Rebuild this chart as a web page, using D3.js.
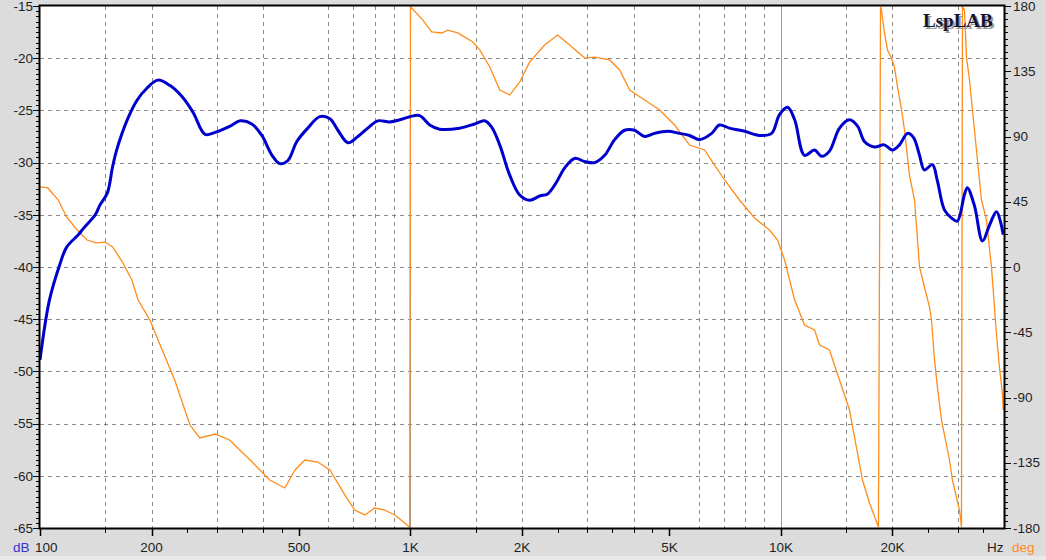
<!DOCTYPE html>
<html>
<head>
<meta charset="utf-8">
<script src="https://cdn.jsdelivr.net/npm/d3@7"></script>
<style>
  html, body { margin: 0; padding: 0; background: #dcdcdc; }
  svg { display: block; }
</style>
</head>
<body>
<svg id="chart" width="1046" height="560"></svg>
<script>
// ---- Data ----
const magFreq = [100,106,113,118,127,131,141,145,152,157,161,173,183,194,208,224,242,259,279,297,326,347,373,397,423,444,467,493,528,569,606,637,678,721,767,816,879,936,996,1059,1127,1199,1358,1490,1585,1656,1741,1853,1972,2098,2233,2345,2466,2608,2775,2953,3142,3343,3557,3785,4027,4285,4560,4943,5325,5666,6030,6501,6823,7261,7980,8750,9435,9910,10420,10890,11580,12320,12880,13520,14390,15310,16100,16820,17900,19010,20000,20890,21960,22800,23660,24380,25640,26420,27600,28840,29920,31260,31840,33270,34990,36550,38180,39810];
const magDb = [-48.9,-43.2,-39.8,-38.1,-36.9,-36.3,-35.0,-34.1,-32.9,-30.4,-28.8,-25.7,-24.0,-22.9,-22.1,-22.6,-23.7,-25.2,-27.3,-27.1,-26.5,-26.0,-26.3,-27.4,-29.3,-30.1,-29.8,-28.0,-26.7,-25.6,-25.8,-26.9,-28.1,-27.5,-26.7,-26.0,-26.1,-25.9,-25.6,-25.5,-26.4,-26.8,-26.7,-26.3,-26.0,-26.6,-28.3,-31.2,-33.1,-33.6,-33.2,-33.0,-32.0,-30.5,-29.6,-29.9,-30.0,-29.3,-27.8,-26.9,-26.9,-27.5,-27.2,-27.0,-27.2,-27.4,-27.8,-27.2,-26.4,-26.7,-27.0,-27.4,-27.2,-25.4,-24.7,-25.9,-29.3,-28.8,-29.4,-28.9,-26.7,-25.9,-26.5,-28.0,-28.5,-28.3,-28.8,-28.3,-27.2,-27.6,-29.3,-30.7,-30.2,-31.7,-34.5,-35.3,-35.6,-33.1,-32.4,-34.1,-37.5,-36.0,-34.7,-36.9];

const phaseFreq = [100,105,112,118,126,134,142,150,157,167,177,184,198,211,231,254,270,297,325,369,417,458,488,519,562,606,665,707,753,801,852,907,965,995,
  1000,1080,1141,1215,1261,1342,1473,1538,1637,1742,1853,1972,2098,2302,2496,2690,2953,3142,3450,3670,3905,4285,4707,5164,5666,6221,6621,7046,7727,8488,9311,9795,10230,10890,11580,12320,12710,13520,14390,15310,16600,17340,18330,
  18570,18680,19030,19390,19880,20250,20640,21160,21550,22230,22940,23660,24400,25170,25490,25970,26450,27120,28500,29040,30330,30710,
  30900,31290,31680,32280,32880,34770,35870,37000,38150,38870,39600,39810];
const phaseDeg = [55.2,54.5,46.2,34.5,25.5,18.6,16.6,17.2,13.8,3.4,-9,-22.8,-36.6,-53.8,-77.9,-109,-117.9,-115.2,-119.3,-133.1,-146.9,-152.4,-140,-133.1,-134.5,-140,-157.2,-167.6,-171,-166.2,-167.6,-171,-176.6,-179.5,
  179.5,170.3,162.1,161.4,163.4,161.4,155.2,149.7,137.9,122.1,118.6,127.6,141.4,153.1,160,153.1,144.1,144.8,142.8,135.9,122.1,115.2,108.3,97.9,84.1,80.7,70.3,60,46.2,33.8,25.5,18.6,4.8,-22.8,-40,-43.4,-53.8,-57.2,-77.9,-98.6,-146.9,-162.8,-179.3,
  179.5,177.2,161.4,149.7,144.1,137.9,124.1,108.3,94.5,63.4,46.2,0,-13.8,-27.6,-36.6,-64.1,-82.8,-105.5,-133.1,-146.9,-167.6,-179.3,
  179.5,177.2,144.8,129,108.3,46.2,32.4,0,-45.5,-69,-86.9,-98.6];

const dbTicks = [-15,-20,-25,-30,-35,-40,-45,-50,-55,-60,-65];
const degTicks = [180,135,90,45,0,-45,-90,-135,-180];
const freqMajor = [100,200,500,1000,2000,5000,10000,20000];
const freqMajorLabels = ["100","200","500","1K","2K","5K","10K","20K"];
const freqMinorMult = [1.5,2.5,3,3.5,4,4.5];
const gridMult = [1.5,2,3,4,6,7,8,9];
const decades = [100,1000,10000];

// ---- Layout ----
const W = 1046, H = 560;
const L = 40, R = 1004, T = 6, B = 528;
const svg = d3.select("#chart");

const x = d3.scaleLog().domain([100, 40000]).range([L, R]);
const y = d3.scaleLinear().domain([-65, -15]).range([B, T]);
const yp = d3.scaleLinear().domain([-180, 180]).range([B, T]);

svg.append("rect").attr("width", W).attr("height", H).attr("fill", "#dcdcdc");
svg.append("rect").attr("x", 0).attr("y", 556).attr("width", W).attr("height", 4).attr("fill", "#e9e9e9");
svg.append("rect").attr("x", L).attr("y", T).attr("width", R - L).attr("height", B - T).attr("fill", "#fff");

// ---- Grid ----
const grid = svg.append("g");
// vertical dashed
const vGrid = [];
decades.forEach(d => gridMult.forEach(m => { const f = d * m; if (f < 40000) vGrid.push(f); }));
grid.selectAll("line.vg").data(vGrid).join("line")
  .attr("x1", d => Math.round(x(d)) + 0.5).attr("x2", d => Math.round(x(d)) + 0.5)
  .attr("y1", T).attr("y2", B)
  .attr("stroke", "#8a8a8a").attr("stroke-width", 1).attr("stroke-dasharray", "4,4");
// vertical solid (decades)
grid.selectAll("line.vd").data([1000, 10000]).join("line")
  .attr("x1", d => Math.round(x(d)) + 0.5).attr("x2", d => Math.round(x(d)) + 0.5)
  .attr("y1", T).attr("y2", B)
  .attr("stroke", "#9a9a9a").attr("stroke-width", 1);
// horizontal dashed
grid.selectAll("line.hg").data(dbTicks.filter(d => d > -65 && d < -15)).join("line")
  .attr("x1", L).attr("x2", R)
  .attr("y1", d => Math.round(y(d)) + 0.5).attr("y2", d => Math.round(y(d)) + 0.5)
  .attr("stroke", "#8a8a8a").attr("stroke-width", 1).attr("stroke-dasharray", "4,4");

// ---- Curves ----
svg.append("clipPath").attr("id", "clip").append("rect")
  .attr("x", L).attr("y", T).attr("width", R - L).attr("height", B - T);

const phaseData = phaseFreq.map((f, i) => [f, phaseDeg[i]]);
svg.append("path").attr("clip-path", "url(#clip)")
  .attr("d", d3.line().x(d => x(d[0])).y(d => yp(d[1]))(phaseData))
  .attr("fill", "none").attr("stroke", "#ff8c1a").attr("stroke-width", 1.3);

const magData = magFreq.map((f, i) => [f, magDb[i]]);
svg.append("path").attr("clip-path", "url(#clip)")
  .attr("d", d3.line().curve(d3.curveCatmullRom.alpha(0.5)).x(d => x(d[0])).y(d => y(d[1]))(magData))
  .attr("fill", "none").attr("stroke", "#0000cc").attr("stroke-width", 3)
  .attr("stroke-linejoin", "round");

// ---- Border ----
svg.append("rect").attr("x", L - 0.5).attr("y", T - 0.5).attr("width", R - L + 1).attr("height", B - T + 1)
  .attr("fill", "none").attr("stroke", "#000").attr("stroke-width", 2);

const font = "'Liberation Sans', Arial, sans-serif";
const txtCol = "#1e1e1e";

// ---- Left axis ----
const minorDb = d3.range(-65, -14.99, 0.5);
svg.append("g").selectAll("line").data(minorDb).join("line")
  .attr("x1", L - 1).attr("x2", d => (d % 5 === 0) ? L - 7 : L - 4)
  .attr("y1", d => Math.round(y(d)) + 0.5).attr("y2", d => Math.round(y(d)) + 0.5)
  .attr("stroke", "#000").attr("stroke-width", 1);
svg.append("g").selectAll("text").data(dbTicks).join("text")
  .attr("x", L - 7).attr("y", d => y(d)).attr("dy", "0.35em")
  .attr("text-anchor", "end").attr("font-family", font).attr("font-size", 13.5)
  .attr("fill", txtCol).text(d => d);

// ---- Right axis ----
const minorDeg = d3.range(-180, 180.01, 4.5);
svg.append("g").selectAll("line").data(minorDeg).join("line")
  .attr("x1", R + 1).attr("x2", d => (Math.abs(d) % 45 === 0) ? R + 7 : R + 4)
  .attr("y1", d => Math.round(yp(d)) + 0.5).attr("y2", d => Math.round(yp(d)) + 0.5)
  .attr("stroke", "#000").attr("stroke-width", 1);
svg.append("g").selectAll("text").data(degTicks).join("text")
  .attr("x", R + 9).attr("y", d => yp(d)).attr("dy", "0.35em")
  .attr("text-anchor", "start").attr("font-family", font).attr("font-size", 13.5)
  .attr("fill", txtCol).text(d => d);

// ---- Bottom axis ----
const minorF = [];
[100, 1000, 10000].forEach(d => freqMinorMult.forEach(m => { const f = d * m; if (f < 40000) minorF.push(f); }));
svg.append("g").selectAll("line").data(minorF).join("line")
  .attr("x1", d => Math.round(x(d)) + 0.5).attr("x2", d => Math.round(x(d)) + 0.5)
  .attr("y1", B + 1).attr("y2", B + 5)
  .attr("stroke", "#000").attr("stroke-width", 1);
svg.append("g").selectAll("line").data(freqMajor).join("line")
  .attr("x1", d => Math.round(x(d)) + 0.5).attr("x2", d => Math.round(x(d)) + 0.5)
  .attr("y1", B + 1).attr("y2", B + 8)
  .attr("stroke", "#000").attr("stroke-width", 1.5);
svg.append("g").selectAll("text").data(freqMajor).join("text")
  .attr("x", (d, i) => i === 0 ? x(d) - 5 : x(d)).attr("y", 552)
  .attr("text-anchor", (d, i) => i === 0 ? "start" : "middle")
  .attr("font-family", font).attr("font-size", 13.5)
  .attr("fill", txtCol).text((d, i) => freqMajorLabels[i]);

// Unit labels
svg.append("text").attr("x", 13).attr("y", 552).attr("font-family", font).attr("font-size", 13.5)
  .attr("fill", "#3535d0").text("dB");
svg.append("text").attr("x", 987).attr("y", 552).attr("font-family", font).attr("font-size", 13.5)
  .attr("fill", txtCol).text("Hz");
svg.append("text").attr("x", 1012).attr("y", 552).attr("font-family", font).attr("font-size", 13.5)
  .attr("fill", "#ff8c1a").text("deg");

// Logo
svg.append("text").attr("x", 925).attr("y", 29).attr("font-family", "'Liberation Serif', 'Times New Roman', serif")
  .attr("font-weight", "bold").attr("font-size", 19).attr("fill", "#9a9a9a").text("LspLAB");
svg.append("text").attr("x", 923).attr("y", 27).attr("font-family", "'Liberation Serif', 'Times New Roman', serif")
  .attr("font-weight", "bold").attr("font-size", 19).attr("fill", "#141432").text("LspLAB");
</script>
</body>
</html>
